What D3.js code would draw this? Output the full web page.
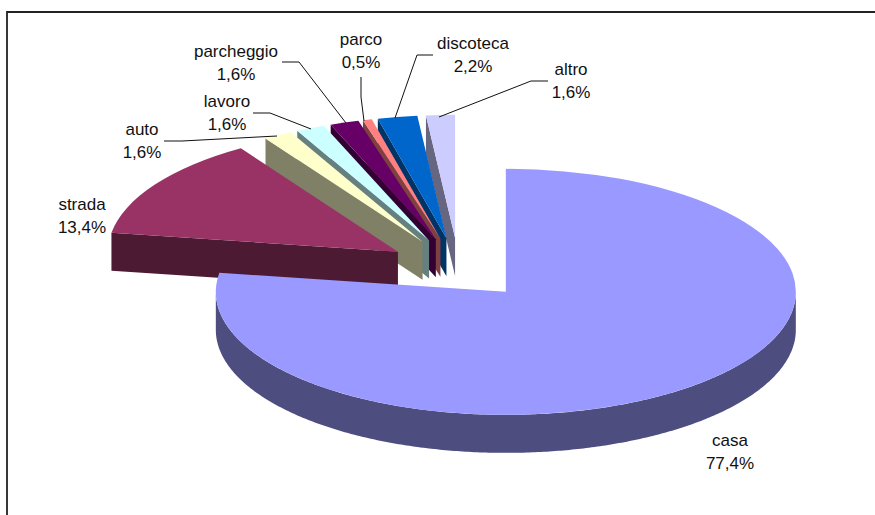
<!DOCTYPE html>
<html>
<head>
<meta charset="utf-8">
<style>
  html, body { margin: 0; padding: 0; background: #fff; }
  svg { display: block; }
  text { font-family: "Liberation Sans", Arial, sans-serif; font-size: 17px; fill: #111; text-anchor: middle; }
</style>
<script src="https://cdn.jsdelivr.net/npm/d3@7"></script>
</head>
<body>
<svg id="chart" width="875" height="515"></svg>
<script>
// Where the injuries happened: an exploded 3-D pie, clockwise from 12 o'clock.
const categories = ["casa", "strada", "auto", "lavoro", "parcheggio", "parco", "discoteca", "altro"];
const shares = [77.4, 13.4, 1.6, 1.6, 1.6, 0.5, 2.2, 1.6];
const topColors = ["#9999ff", "#993366", "#ffffcc", "#ccffff", "#660066", "#ff8080", "#0066cc", "#ccccff"];
const wallColors = ["#4d4d80", "#4d1a33", "#808066", "#668080", "#330033", "#804040", "#003366", "#666680"];

// Label anchor (centre x, first baseline y) and leader polyline for each slice.
const labelAnchors = [[730, 446], [82, 210], [142, 135], [227, 107], [236, 57], [361, 45], [473, 49], [571, 75]];
const leaderPaths = [
  null,
  null,
  [[164, 141], [182, 141], [277, 136]],
  [[253, 113], [270, 113], [311, 129]],
  [[282, 62], [299, 62], [346, 123]],
  [[361, 77], [361, 97], [364, 121]],
  [[433, 55], [417, 55], [395, 118]],
  [[548, 81], [531, 81], [439, 117]]
];

const centerX = 458.7, centerY = 268.5;
const radiusX = 290, radiusY = 123;
const depth = 38;
const explode = 0.25;

const svg = d3.select("#chart");

// Chart frame; only its top and left edges fall inside the page.
svg.append("path")
  .attr("d", "M7,515V12H875")
  .attr("fill", "none")
  .attr("stroke", "#222")
  .attr("stroke-width", 1.8);

const slices = d3.pie().sort(null).value(d => d)(shares).map((s, i) => {
  const mid = (s.startAngle + s.endAngle) / 2;
  return {
    ...s,
    i,
    ox: centerX + explode * radiusX * Math.sin(mid),
    oy: centerY - explode * radiusY * Math.cos(mid)
  };
});

const rim = (s, a) => [s.ox + radiusX * Math.sin(a), s.oy - radiusY * Math.cos(a)];
const line = d3.line();
const arcShape = d3.arc().innerRadius(0).outerRadius(radiusX);

// Painted back to front: slices running towards 12 o'clock first, the large one last.
slices.slice().reverse().forEach(s => {
  const g = svg.append("g");

  // Outer wall, only where the rim faces the viewer (right through bottom to left).
  const from = Math.max(s.startAngle, Math.PI / 2);
  const to = Math.min(s.endAngle, 3 * Math.PI / 2);
  if (to > from) {
    const angles = d3.range(from, to, 0.01).concat([to]);
    const upper = angles.map(a => rim(s, a));
    const lower = upper.map(([x, y]) => [x, y + depth]).reverse();
    g.append("path")
      .attr("d", line(upper.concat(lower)) + "Z")
      .attr("fill", wallColors[s.i]);
  }

  // Cut face along the leading edge of the wedge.
  if (s.i > 0) {
    const [x, y] = rim(s, s.startAngle);
    g.append("path")
      .attr("d", line([[x, y], [s.ox, s.oy], [s.ox, s.oy + depth], [x, y + depth]]) + "Z")
      .attr("fill", wallColors[s.i]);
  }

  // Top face: a circular wedge squashed into the ellipse.
  g.append("path")
    .attr("transform", `translate(${s.ox},${s.oy}) scale(1,${radiusY / radiusX})`)
    .attr("d", arcShape(s))
    .attr("fill", topColors[s.i]);
});

// Leader lines.
leaderPaths.forEach(points => {
  if (!points) return;
  svg.append("path")
    .attr("d", line(points))
    .attr("fill", "none")
    .attr("stroke", "#111")
    .attr("stroke-width", 1);
});

// Two-line labels: category and share with a decimal comma.
const fmt = d3.format(".1f");
categories.forEach((name, i) => {
  const [x, y] = labelAnchors[i];
  const label = svg.append("text").attr("x", x).attr("y", y);
  label.append("tspan").attr("x", x).text(name);
  label.append("tspan").attr("x", x).attr("y", y + 22.7).text(fmt(shares[i]).replace(".", ",") + "%");
});
</script>
</body>
</html>
